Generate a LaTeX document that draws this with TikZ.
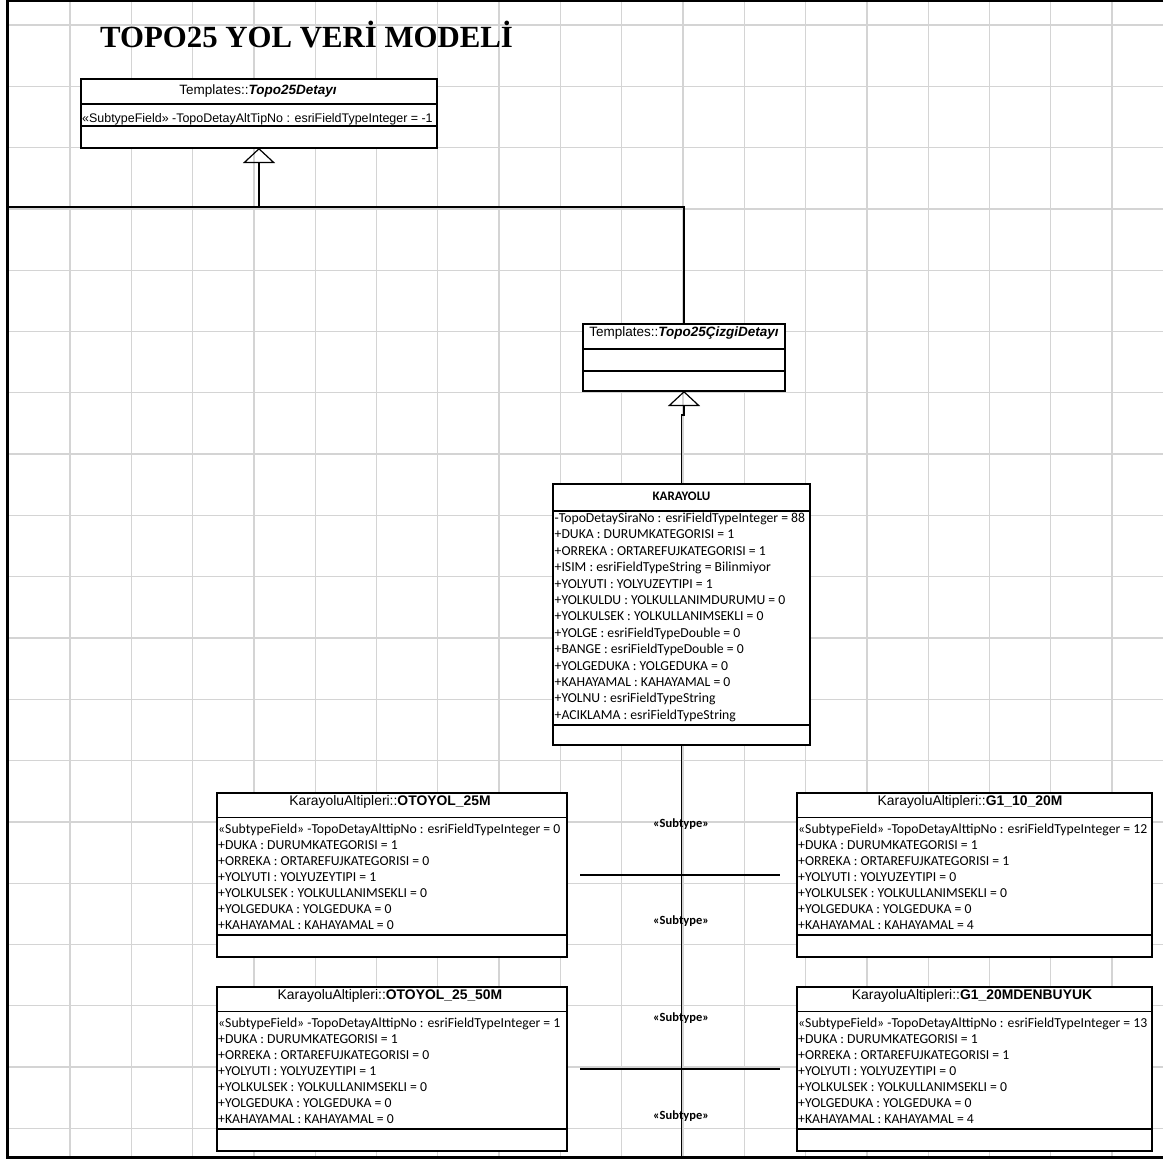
\documentclass[tikz,border=0pt]{standalone}
\usepackage{fontspec}
\setmainfont{Liberation Sans}
\newfontfamily\calfont{Carlito}
\newfontfamily\timesfont{Liberation Serif}
\usetikzlibrary{arrows.meta}
\begin{document}
\begin{tikzpicture}[x=1pt,y=-1pt,
  gridline/.style={draw=black!17, line width=1.3pt},
  frame/.style={line width=2.4pt},
  umlbox/.style={draw, line width=1.2pt, fill=white, inner sep=0pt, outer sep=0pt, anchor=north west},
  sepline/.style={line width=1.2pt},
  hdr/.style={anchor=base, inner sep=0pt, font=\fontsize{13.5}{13}\selectfont},
  hdrs/.style={anchor=base, inner sep=0pt, font=\fontsize{13.9}{13}\selectfont},
  hdrc/.style={anchor=base, inner sep=0pt, font=\calfont\bfseries\fontsize{13}{13}\selectfont},
  attra/.style={anchor=base west, inner sep=0pt, font=\fontsize{12.45}{12}\selectfont},
  attrc/.style={anchor=base west, inner sep=0pt, font=\calfont\fontsize{13.7}{14}\selectfont},
  stlabel/.style={anchor=base, inner sep=0pt, font=\calfont\bfseries\fontsize{12.5}{12}\selectfont},
  conn/.style={line width=1.2pt},
  gen/.style={conn, -{Triangle[open, length=15pt, width=32pt, line width=1.2pt]}}
]
% page area
\fill[white] (0,0) rectangle (1163,1167);
\useasboundingbox (0,0) rectangle (1163,1167);

% background grid
\foreach \k in {0,...,17}
  \draw[gridline] ({70+61.3*\k},2) -- ({70+61.3*\k},1157);
\foreach \k in {0,...,18}
  \draw[gridline] (8,{25+61.3*\k}) -- (1163,{25+61.3*\k});

% frame
\draw[frame] (1163,1.2) -- (7.5,1.2) -- (7.5,1157.5) -- (1163,1157.5);

% title
\node[anchor=base west, inner sep=0pt, font=\timesfont\bfseries\fontsize{30.8}{30}\selectfont]
  (title) at (100,47) {TOPO25 YOL VERİ MODELİ};

% ---------- Templates::Topo25Detayı
\node[umlbox, minimum width=356pt, minimum height=69pt] (b1) at (81,79) {};
\draw[sepline] ([yshift=-25pt]b1.north west) -- ([yshift=-25pt]b1.north east);
\draw[sepline] ([yshift=-47pt]b1.north west) -- ([yshift=-47pt]b1.north east);
\node[hdr] (b1-h) at (258,94.3) {Templates::\textbf{\textit{Topo25Detayı}}};
\node[attra] (b1-a1) at (82,122) {«SubtypeField» -TopoDetayAltTipNo : esriFieldTypeInteger = -1};

% ---------- Templates::Topo25ÇizgiDetayı
\node[umlbox, minimum width=202pt, minimum height=67pt] (b2) at (583,324) {};
\draw[sepline] ([yshift=-25pt]b2.north west) -- ([yshift=-25pt]b2.north east);
\draw[sepline] ([yshift=-47pt]b2.north west) -- ([yshift=-47pt]b2.north east);
\node[hdr] (b2-h) at (684,336) {Templates::\textbf{\textit{Topo25ÇizgiDetayı}}};

% ---------- KARAYOLU
\node[umlbox, minimum width=257pt, minimum height=261pt] (b3) at (553,484) {};
\draw[sepline] ([yshift=-27pt]b3.north west) -- ([yshift=-27pt]b3.north east);
\draw[sepline] ([yshift=-241pt]b3.north west) -- ([yshift=-241pt]b3.north east);
\node[hdrc] (b3-h) at (681.5,500) {KARAYOLU};
\foreach \t [count=\i] in {
  -TopoDetaySiraNo : esriFieldTypeInteger = 88,
  +DUKA : DURUMKATEGORISI = 1,
  +ORREKA : ORTAREFUJKATEGORISI = 1,
  +ISIM : esriFieldTypeString = Bilinmiyor,
  +YOLYUTI : YOLYUZEYTIPI = 1,
  +YOLKULDU : YOLKULLANIMDURUMU = 0,
  +YOLKULSEK : YOLKULLANIMSEKLI = 0,
  +YOLGE : esriFieldTypeDouble = 0,
  +BANGE : esriFieldTypeDouble = 0,
  +YOLGEDUKA : YOLGEDUKA = 0,
  +KAHAYAMAL : KAHAYAMAL = 0,
  +YOLNU : esriFieldTypeString,
  +ACIKLAMA : esriFieldTypeString}
  \node[attrc] (b3-a\i) at (554.5,{522.5+16.4*(\i-1)}) {\t};

% ---------- subtype classes
\node[umlbox, minimum width=350pt, minimum height=164pt] (b4) at (217,793) {};
\node[umlbox, minimum width=355pt, minimum height=164pt] (b5) at (797,793) {};
\node[umlbox, minimum width=350pt, minimum height=164pt] (b6) at (217,987) {};
\node[umlbox, minimum width=355pt, minimum height=164pt] (b7) at (797,987) {};
\foreach \b in {b4,b5,b6,b7}{
  \draw[sepline] ([yshift=-24.5pt]\b.north west) -- ([yshift=-24.5pt]\b.north east);
  \draw[sepline] ([yshift=-142pt]\b.north west) -- ([yshift=-142pt]\b.north east);
}
\node[hdrs] (b4-h) at (390,805) {KarayoluAltipleri::\textbf{OTOYOL\_25M}};
\node[hdrs] (b5-h) at (970,805) {KarayoluAltipleri::\textbf{G1\_10\_20M}};
\node[hdrs] (b6-h) at (390,999) {KarayoluAltipleri::\textbf{OTOYOL\_25\_50M}};
\node[hdrs] (b7-h) at (972,999) {KarayoluAltipleri::\textbf{G1\_20MDENBUYUK}};

\foreach \b/\x/\y/\n/\o/\s/\k in {b4/218/833/0/0/1/0, b5/798/833/12/1/0/4,
                                  b6/218/1027/1/0/1/0, b7/798/1027/13/1/0/4}{
  \foreach \t [count=\i] in {
    «SubtypeField» -TopoDetayAlttipNo : esriFieldTypeInteger = \n,
    +DUKA : DURUMKATEGORISI = 1,
    +ORREKA : ORTAREFUJKATEGORISI = \o,
    +YOLYUTI : YOLYUZEYTIPI = \s,
    +YOLKULSEK : YOLKULLANIMSEKLI = 0,
    +YOLGEDUKA : YOLGEDUKA = 0,
    +KAHAYAMAL : KAHAYAMAL = \k}
    \node[attrc] (\b-a\i) at (\x,{\y+16.1*(\i-1)}) {\t};
}

% ---------- connectors
\coordinate (leftend) at (8,207);
\coordinate (junction) at (259,207);
\coordinate (jog) at (684,415);
\coordinate (bottomend) at (681.5,1157);
\draw[conn] (b2.north) |- (leftend);
\draw[gen] (junction) -- (b1.south);
\draw[gen] (b3.north) |- (jog) -- (b2.south);

\node[stlabel] (st1) at (681,827.5) {«Subtype»};
\node[stlabel] (st2) at (681,924.5) {«Subtype»};
\node[stlabel] (st3) at (681,1021.5) {«Subtype»};
\node[stlabel] (st4) at (681,1119) {«Subtype»};

\draw[conn] (b3.south) -- (bottomend);
\coordinate (h1l) at (580,875);
\coordinate (h1r) at (780,875);
\coordinate (h2l) at (580,1069);
\coordinate (h2r) at (780,1069);
\draw[conn] (h1l) -- (h1r);
\draw[conn] (h2l) -- (h2r);
\end{tikzpicture}
\end{document}
